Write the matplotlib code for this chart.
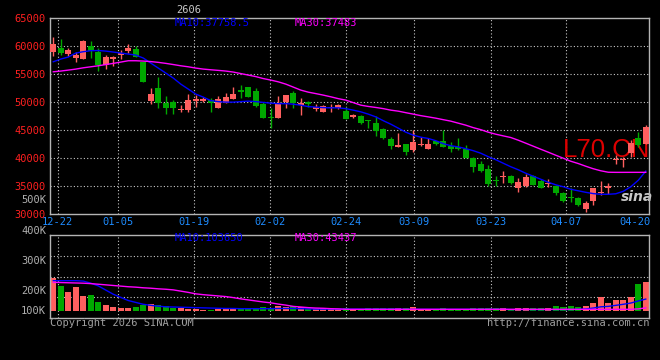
import matplotlib
matplotlib.use('Agg')
import matplotlib.pyplot as plt

# daily k-line, oldest first (80 sessions, last one is 04-21)
openPrice = [58980, 59700, 58570, 57860, 57730, 60000, 58980, 56610, 57620, 58390,
             59160, 59550, 57140, 50270, 52500, 49870, 50050, 48660, 48570, 50230,
             50180, 50360, 48870, 49770, 50530, 52140, 52620, 51960, 49640, 47320,
             47200, 49950, 51550, 49460, 49950, 48750, 48160, 48980, 48870, 48480,
             47320, 47550, 46730, 46250, 45230, 43390, 42020, 42500, 41430, 42410,
             41730, 43030, 43030, 42140, 42020, 41730, 39950, 39050, 38160, 35980,
             36620, 36800, 34610, 35000, 36800, 35960, 35360, 35000, 33800, 33020,
             32840, 30980, 32290, 33710, 34630, 39700, 39700, 40950, 43530, 42500]
highPrice = [61550, 61200, 59640, 59020, 61070, 60890, 59640, 58390, 58300, 59380,
             60360, 59950, 57200, 52450, 54460, 51070, 50360, 49460, 51370, 51250,
             50950, 50770, 51120, 51550, 52730, 53040, 52620, 52500, 50050, 48870,
             51120, 51250, 51960, 50770, 50180, 49590, 49460, 49590, 49590, 49160,
             47930, 47620, 46780, 47550, 45360, 43800, 44460, 42500, 45000, 43800,
             43520, 43030, 45000, 42910, 43520, 42320, 40230, 39460, 38870, 36780,
             37700, 36980, 36390, 37270, 36980, 36210, 36210, 35180, 33980, 34630,
             33140, 32290, 34660, 35860, 35520, 40540, 40230, 43210, 44640, 45890]
lowPrice = [58210, 58390, 58300, 57140, 57620, 57800, 55590, 55890, 56520, 57680,
            58750, 58090, 53620, 49640, 48930, 47950, 47860, 48270, 48270, 49160,
            50050, 48270, 48870, 49770, 50530, 50660, 50950, 49160, 47090, 45300,
            47200, 48980, 48980, 47620, 49160, 48480, 48160, 48160, 48750, 46960,
            47140, 46120, 45410, 44030, 43390, 41730, 42020, 40660, 41120, 42200,
            41730, 42440, 42020, 41120, 41550, 39950, 37550, 37550, 35050, 35050,
            35640, 35480, 33960, 34880, 35200, 34610, 34880, 33390, 32200, 32200,
            31460, 30390, 31700, 33360, 33610, 39000, 38520, 40230, 42020, 42500]
closePrice = [60360, 58800, 59290, 58390, 60890, 59200, 56610, 58040, 57980, 58840,
              59590, 58130, 53620, 51480, 49870, 48930, 48930, 48840, 50360, 50620,
              50620, 49770, 50530, 50890, 51370, 51840, 50950, 49340, 47090, 47140,
              49770, 51250, 49770, 49770, 49590, 49160, 49340, 49110, 49460, 47050,
              47750, 46250, 46610, 44930, 43680, 42200, 42320, 41120, 42910, 42500,
              42620, 42620, 42020, 41730, 41730, 39950, 38450, 37730, 35480, 35890,
              36750, 35550, 35780, 36660, 35200, 34610, 35480, 33800, 32380, 32890,
              31640, 31980, 34660, 33840, 35040, 39820, 39820, 42730, 42320, 45480]
# volume in thousands
volumeK = [191, 155, 127, 150, 108, 111, 79, 64, 54, 51,
           51, 53, 64, 68, 66, 59, 51, 51, 45, 45,
           40, 40, 43, 43, 49, 49, 43, 49, 56, 51,
           59, 53, 59, 53, 43, 45, 49, 43, 45, 49,
           43, 40, 51, 51, 51, 51, 51, 51, 56, 43,
           43, 40, 51, 40, 38, 38, 49, 51, 51, 51,
           51, 43, 51, 51, 51, 51, 51, 60, 54, 60,
           54, 60, 75, 103, 75, 88, 88, 103, 164, 175]

# moving averages as drawn by sina (they start before the window)
ma10 = [57200, 57680, 58040, 58750, 58990, 59170, 59200, 59100, 58930, 58750,
        58570, 58390, 57860, 56960, 56070, 55180, 54290, 53210, 52320, 51430,
        50890, 50270, 50090, 50000, 50000, 50090, 50180, 50090, 49950, 49820,
        49730, 49730, 49640, 49460, 49200, 49110, 49020, 48980, 48980, 48840,
        48570, 48270, 47860, 47370, 46690, 46070, 45360, 44640, 44110, 43750,
        43520, 43120, 42590, 42230, 42020, 41700, 41340, 40890, 40270, 39730,
        39100, 38480, 37940, 37320, 36780, 36250, 35710, 35260, 34910, 34460,
        34190, 33920, 33690, 33570, 33570, 33660, 34100, 34910, 36070, 37700]
ma30 = [55410, 55540, 55710, 55890, 56120, 56300, 56480, 56700, 56910, 57140,
        57380, 57380, 57320, 57230, 57090, 56910, 56700, 56480, 56300, 56070,
        55890, 55770, 55660, 55540, 55360, 55090, 54820, 54550, 54200, 53930,
        53620, 53210, 52680, 52140, 51780, 51520, 51250, 50950, 50620, 50360,
        49910, 49460, 49230, 49050, 48840, 48570, 48390, 48120, 47860, 47590,
        47370, 47140, 46870, 46610, 46250, 45890, 45450, 45090, 44640, 44280,
        43980, 43690, 43210, 42680, 42140, 41600, 41070, 40530, 40000, 39460,
        39050, 38570, 38120, 37760, 37500, 37480, 37480, 37483, 37483, 37483]
volMa10 = [180, 180, 180, 180, 178, 168, 155, 135, 115, 100,
           85, 76, 67, 62, 58, 55, 54, 53, 52, 51,
           50, 49, 48, 47, 47, 46, 46, 46, 46, 46,
           47, 47, 47, 46, 45, 44, 44, 44, 44, 44,
           44, 44, 44, 44, 44, 44, 44, 43, 43, 43,
           43, 43, 43, 43, 43, 43, 43, 43, 43, 43,
           43, 42, 42, 42, 42, 42, 42, 42, 42, 42,
           43, 45, 49, 55, 57, 62, 67, 73, 83, 92]
volMa30 = [172, 171, 170, 169, 168, 166, 163, 160, 157, 154,
           151, 149, 146, 144, 141, 139, 136, 130, 124, 117,
           113, 110, 107, 104, 99, 93, 88, 83, 78, 74,
           68, 63, 57, 54, 51, 49, 48, 46, 45, 43,
           43, 43, 43, 43, 43, 43, 43, 43, 43, 43,
           43, 43, 43, 43, 43, 43, 43, 43, 43, 43,
           43, 43, 43, 43, 43, 43, 43, 43, 43, 43,
           43, 43, 43, 43, 43, 43, 43, 43, 45, 50]

dateLabels = ['12-22', '01-05', '01-19', '02-02', '02-24', '03-09', '03-23', '04-07', '04-20']
priceTicks = [30000, 35000, 40000, 45000, 50000, 55000, 60000, 65000]
volTickLabels = ['500K', '400K', '300K', '200K', '100K']

# sina puts the date lines a bit off the candles, keep their spots
datePos = [0.6, 8.6, 18.8, 28.9, 39.0, 48.1, 58.3, 68.4, 77.6]
volLabelAt = [566, 418, 274, 131, 35]   # labels are not on the grid in the original
volGrid = [100, 200, 300]
volFloor = 35

upColor = '#ff5f5f'
downColor = '#00a800'
frameColor = '#b4b4b4'
gridColor = '#c8c8c8'
mono = 'DejaVu Sans Mono'

n = len(closePrice)
xs = list(range(n))
isUp = [closePrice[i] >= openPrice[i] for i in xs]
colors = [upColor if u else downColor for u in isUp]

fig = plt.figure(figsize=(6.6, 3.6), dpi=100, facecolor='black')
axP = fig.add_axes([50 / 660, 1 - 214.3 / 360, 599 / 660, 196.3 / 360], facecolor='black')
axV = fig.add_axes([50 / 660, 1 - 318.3 / 360, 599 / 660, 83.6 / 360], facecolor='black')

for ax in (axP, axV):
    ax.set_xlim(-0.44, 79.43)
    for s in ax.spines.values():
        s.set_color(frameColor)
        s.set_linewidth(1)
    ax.tick_params(length=0)
    for p in datePos[:-1]:
        ax.axvline(p, color=gridColor, lw=0.8, ls=(0, (1, 2)), zorder=0)

# price panel
axP.set_ylim(30000, 65000)
for t in priceTicks[1:-1]:
    axP.axhline(t, color=gridColor, lw=0.8, ls=(0, (1, 2)), zorder=0)

# watermark sits under the candles
axP.text(563 / 660, 1 - 150 / 360, 'L70.CN', transform=fig.transFigure, color='#dd0000',
         fontsize=18.5, family='Liberation Sans', va='center', zorder=1, clip_on=False)
axP.text(621 / 660, 1 - 197 / 360, 'sina', transform=fig.transFigure, color='#c8c8c8',
         fontsize=10, style='italic', weight='bold', va='center', zorder=1, clip_on=False)

bodyLow = [min(openPrice[i], closePrice[i]) for i in xs]
bodyH = [max(abs(closePrice[i] - openPrice[i]), 180) for i in xs]
axP.vlines(xs, lowPrice, highPrice, colors=colors, lw=1, zorder=2)
axP.bar(xs, bodyH, bottom=bodyLow, width=0.8, color=colors, linewidth=0, zorder=3)
axP.plot(xs, ma10, color='#0000ff', lw=1, zorder=4)
axP.plot(xs, ma30, color='#ff00ff', lw=1, zorder=4)

axP.set_yticks(priceTicks)
axP.set_yticklabels([str(t) for t in priceTicks], color='#ff2020', fontsize=7.5, family=mono)
axP.tick_params(axis='y', pad=3)
axP.set_xticks(datePos)
axP.set_xticklabels(dateLabels, color='#1e8cff', fontsize=7.5, family=mono)
axP.tick_params(axis='x', pad=2)

# volume panel
axV.set_ylim(0, 400)
for g in volGrid:
    axV.axhline(g, color=gridColor, lw=0.8, ls=(0, (1, 2)), zorder=0)
axV.bar(xs, [v - volFloor for v in volumeK], bottom=volFloor, width=0.8,
        color=colors, linewidth=0, zorder=2)
axV.plot(xs, volMa10, color='#0000ff', lw=1, zorder=3)
axV.plot(xs, volMa30, color='#ff00ff', lw=1, zorder=3)
axV.set_xticks([])
axV.set_yticks([])
for lab, at in zip(volTickLabels, volLabelAt):
    axV.text(-0.0065, at, lab, transform=axV.get_yaxis_transform(), ha='right', va='center',
             color='#b0b0b0', fontsize=7.5, family=mono, clip_on=False)

# header texts
fig.text(176 / 660, 1 - 10 / 360, '2606', color='#c8c8c8', fontsize=7.5, family=mono, va='center')
fig.text(175 / 660, 1 - 23 / 360, 'MA10:37758.5', color='#0000ff', fontsize=7.5, family=mono, va='center')
fig.text(295 / 660, 1 - 23 / 360, 'MA30:37483', color='#ff00ff', fontsize=7.5, family=mono, va='center')
fig.text(175 / 660, 1 - 238 / 360, 'MA10:103650', color='#0000ff', fontsize=7.5, family=mono, va='center')
fig.text(295 / 660, 1 - 238 / 360, 'MA30:43437', color='#ff00ff', fontsize=7.5, family=mono, va='center')

# footer
fig.text(50 / 660, 1 - 323.5 / 360, 'Copyright 2026 SINA.COM', color='#a0a0a0', fontsize=7.5,
         family=mono, va='center')
fig.text(649 / 660, 1 - 323.5 / 360, 'http://finance.sina.com.cn', color='#a0a0a0', fontsize=7.5,
         family=mono, va='center', ha='right')

fig.savefig('out.png', dpi=100, facecolor='black')
